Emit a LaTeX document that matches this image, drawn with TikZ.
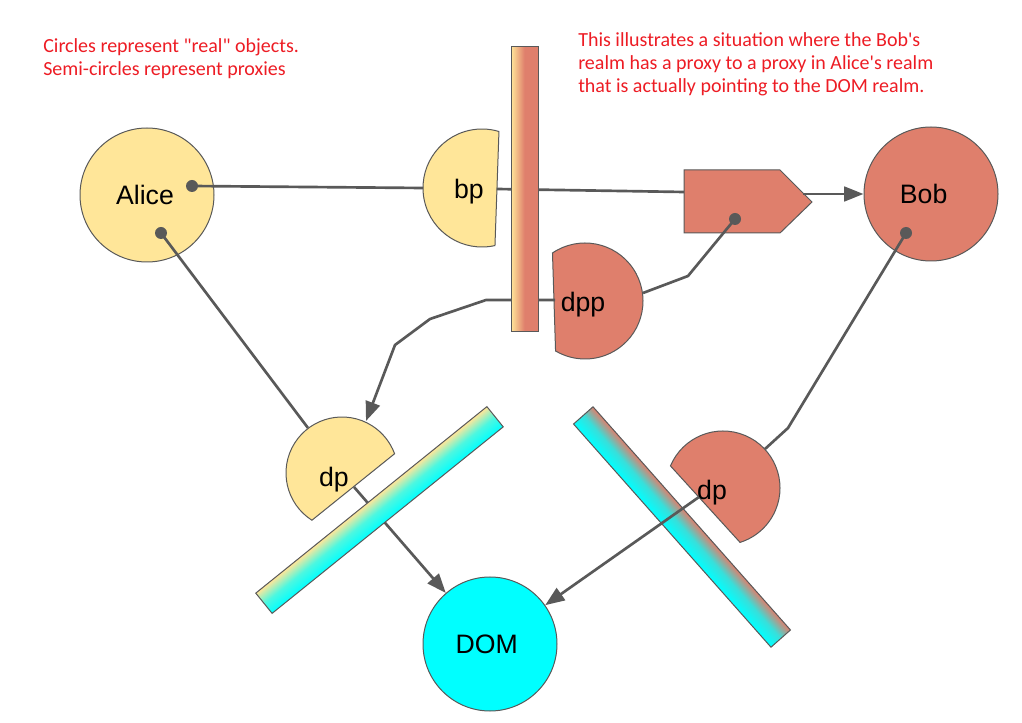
\documentclass[tikz,border=0pt]{standalone}
\usepackage{fontspec}
\setmainfont{Liberation Sans}
\newfontfamily\notefont{Carlito}[Ligatures=TeXOff]
\usetikzlibrary{arrows.meta}
\definecolor{realmyellow}{RGB}{255,230,153}
\definecolor{realmred}{RGB}{223,127,108}
\definecolor{realmdom}{RGB}{0,255,255}
\definecolor{wiregray}{RGB}{89,89,89}
\definecolor{notered}{RGB}{237,28,36}
\begin{document}
\begin{tikzpicture}[x=0.75pt,y=-0.75pt,
    real/.style={circle,draw=wiregray,line width=0.75pt,minimum size=100.5pt,
      inner sep=0pt,font=\fontsize{20}{24}\selectfont},
    proxy/.style={draw=wiregray,line width=0.75pt},
    plabel/.style={font=\fontsize{20}{24}\selectfont,inner sep=0pt},
    wire/.style={draw=wiregray,line width=2pt},
    ptr/.style={wire,-{Triangle[length=14.5pt,width=11pt]}},
    note/.style={text=notered,font=\notefont\fontsize{15}{18}\selectfont,
      anchor=base west,inner sep=0pt},
    wall/.style={draw=wiregray,line width=0.75pt}]
  \useasboundingbox (0,0) rectangle (1022,723);

  % notes
  \node[note] (noteA) at (43,53) {Circles represent "real" objects.};
  \node[note] (noteB) at (43,76) {Semi-circles represent proxies};
  \node[note] (noteC) at (578,47) {This illustrates a situation where the Bob's};
  \node[note] (noteD) at (578,70) {realm has a proxy to a proxy in Alice's realm};
  \node[note] (noteE) at (578,93) {that is actually pointing to the DOM realm.};

  % real objects
  \node[real,fill=realmyellow] (alice) at (147,195) {Alice\hspace*{3pt}};
  \node[real,fill=realmred] (bob) at (931,194) {Bob\hspace*{11pt}};
  \node[real,fill=realmdom] (dom) at (490,644) {DOM\hspace*{5pt}};

  % proxies
  \filldraw[proxy,fill=realmyellow] (482,188) ++(77.3:59)
    arc[start angle=77.3,end angle=286.7,radius=59] -- cycle;
  \filldraw[proxy,fill=realmred] (585,301) ++(235.9:58)
    arc[start angle=235.9,end angle=480.5,radius=58] -- cycle;
  \filldraw[proxy,fill=realmyellow] (342,473) ++(122.5:56)
    arc[start angle=122.5,end angle=339.9,radius=56] -- cycle;
  \filldraw[proxy,fill=realmred] (723,488) ++(202.8:57)
    arc[start angle=202.8,end angle=432.6,radius=57] -- cycle;
  \filldraw[proxy,fill=realmred] (684,170) -- (780,170) -- (812,202)
    -- (780,233) -- (684,233) -- cycle;
  \node[plabel] (bp) at (469,192) {bp};
  \node[plabel] (dpp) at (583,305) {dpp};
  \node[plabel] (ydp) at (334,480) {dp};
  \node[plabel] (rdp) at (712,493) {dp};

  % connector ends
  \coordinate (aliceDotA) at (192,186);
  \coordinate (aliceDotB) at (161,233);
  \coordinate (bobDot) at (906,233);
  \coordinate (fwdDot) at (735,219);
  \coordinate (bpW) at (423,188);
  \coordinate (bpE) at (497,189);
  \coordinate (fwdW) at (684,192);
  \coordinate (fwdE) at (803,194);
  \coordinate (dppW) at (555,300);
  \coordinate (dppE) at (643,293);
  \coordinate (ydpN) at (366,421);
  \coordinate (ydpNW) at (308,428);
  \coordinate (ydpSE) at (354,487);
  \coordinate (rdpNE) at (765,449);
  \coordinate (rdpSW) at (699,497);

  % connectors
  \draw[wire] (aliceDotA) -- (bpW);
  \draw[wire] (bpE) -- (fwdW);
  \draw[ptr] (fwdE) -- (bob);
  \draw[wire] (fwdDot) -- (688,276) -- (dppE);
  \draw[ptr] (dppW) -- (486,300) -- (430,319) -- (395,345) -- (ydpN);
  \draw[wire] (aliceDotB) -- (ydpNW);
  \draw[ptr] (ydpSE) -- (dom);
  \draw[wire] (bobDot) -- (788,428) -- (rdpNE);
  \fill[wiregray] (aliceDotA) circle[radius=6];
  \fill[wiregray] (aliceDotB) circle[radius=6];
  \fill[wiregray] (bobDot) circle[radius=6];
  \fill[wiregray] (fwdDot) circle[radius=6];

  % realm walls
  \shade[left color=realmyellow,right color=realmred,middle color=realmred]
    (511,47) rectangle (538,332);
  \draw[wall] (511,47) rectangle (538,332);
  \begin{scope}[transform canvas={shift={(379.5,510)},rotate=38.9}]
    \shade[top color=realmyellow,bottom color=realmdom,
      middle color=realmdom!70!realmyellow] (-148.5,-13) rectangle (148.5,13);
    \draw[wall] (-148.5,-13) rectangle (148.5,13);
  \end{scope}
  \begin{scope}[transform canvas={shift={(682,527)},rotate=-48.5}]
    \shade[top color=realmred,bottom color=realmdom,
      middle color=realmdom!75!realmred] (-149,-13) rectangle (149,13);
    \draw[wall] (-149,-13) rectangle (149,13);
  \end{scope}

  \draw[ptr] (rdpSW) -- (dom);
\end{tikzpicture}
\end{document}
